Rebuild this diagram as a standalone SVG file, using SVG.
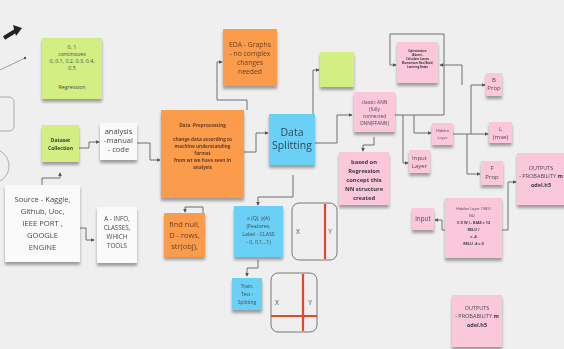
<svg xmlns="http://www.w3.org/2000/svg" width="564" height="349" viewBox="0 0 564 349">
<defs>
<filter id="sh" x="-20%" y="-20%" width="140%" height="150%">
<feDropShadow dx="0" dy="3" stdDeviation="1.8" flood-color="#000" flood-opacity="0.35"/>
</filter>
<marker id="ar" viewBox="0 0 6 6" refX="5" refY="3" markerWidth="4" markerHeight="4" orient="auto">
<path d="M0,0 L6,3 L0,6 z" fill="#555"/>
</marker>
</defs>
<style>
text{font-family:"Open Sans","Noto Sans","Liberation Sans",sans-serif;text-anchor:middle;fill:#4a4a4a}
.g{fill:#d3ef84}
.o{fill:#fb9c4e}
.b{fill:#6bd0f6}
.p{fill:#fbc8db}
.w{fill:#fafafa}
.n{filter:url(#sh)}
.c path{fill:none;stroke:#6f6f6f;stroke-width:1;marker-end:url(#ar)}
.bd{font-weight:bold;fill:#3a3a3a}
.ot{fill:#6a3d1e}
</style>
<rect width="564" height="349" fill="#efefef"/>

<!-- partial shapes on left edge -->
<g id="edge">
<path d="M4,38 L17,30" stroke="#222" stroke-width="4" fill="none"/>
<path d="M13,25 L22,28 L16,36 z" fill="#222"/>
<path d="M0,70 L25,58" stroke="#888" stroke-width="0.8" fill="none"/>
<circle cx="25" cy="58" r="1.2" fill="#555"/>
<rect x="-10" y="97" width="24" height="34" rx="5" fill="none" stroke="#999" stroke-width="0.8"/>
<circle cx="-8" cy="166" r="17" fill="none" stroke="#999" stroke-width="0.8"/>
</g>

<g class="c" id="connectors">
<path d="M79,148 H89 V142 H99"/>
<path d="M137,143 H150 V160 H160"/>
<path d="M42,186 V178 H60 V173"/>
<path d="M80,228 H86 V240 H94"/>
<path d="M203,215 V207 H185 V212"/>
<path d="M247,110 V100 H217 V62 H222"/>
<path d="M243,152 H256 V133 H268"/>
<path d="M293,175 V197 H258 V205"/>
<path d="M258,260 V268 H247 V276"/>
<path d="M315,143 H337 V115 H352"/>
<path d="M313,114 V70 H319"/>
<path d="M374,137 V145 H363 V151"/>
<path d="M395,115 H403 V163 H408"/>
<path d="M403,115 H414 V133 H431"/>
<path d="M414,115 H444 V34 H390 V65 H396"/>
<path d="M453,134 H488"/>
<path d="M471,134 V85 H485"/>
<path d="M462,85 V65 H440"/>
<path d="M467,134 V174 H480"/>
<path d="M445,230 H442 V220 H435"/>
<path d="M502,230 H508 V182 H516"/>
</g>

<g id="n-regression" class="n"><rect class="g" x="42" y="38" width="60" height="61"/></g>
<g font-size="5.3"><text x="72" y="49">0, 1</text><text x="72" y="56">continoues</text><text x="72" y="63">0, 0.1, 0.2, 0.3, 0.4,</text><text x="72" y="70">0.5</text><text x="72" y="89">Regression</text></g>

<g id="n-dataset" class="n"><rect class="g" x="42" y="125" width="37" height="37"/>
<text class="bd" x="60.5" y="142" font-size="5">Dataset</text><text class="bd" x="60.5" y="150" font-size="5">Collection</text></g>

<g id="n-analysis" class="n"><rect class="w" x="100" y="123" width="37" height="37"/>
<text x="118.5" y="134" font-size="7.5">analysis</text><text x="118.5" y="143" font-size="7.5">-manual</text><text x="118.5" y="152" font-size="7.5">- code</text></g>

<g id="n-source" class="n"><rect class="w" x="5" y="185" width="75" height="77"/>
<text x="42.5" y="202" font-size="7.6">Source - Kaggle,</text><text x="42.5" y="214" font-size="7.6">Github, Uoc,</text><text x="42.5" y="226" font-size="7.6">IEEE PORT ,</text><text x="42.5" y="238" font-size="7.6">GOOGLE</text><text x="42.5" y="250" font-size="7.6">ENGINE</text></g>

<g id="n-ainfo" class="n"><rect class="w" x="97" y="207" width="40" height="56"/>
<text x="117" y="221" font-size="6.3">A - INFO,</text><text x="117" y="230" font-size="6.3">CLASSES,</text><text x="117" y="239" font-size="6.3">WHICH</text><text x="117" y="248" font-size="6.3">TOOLS</text></g>

<g id="n-preprocessing" class="n"><rect class="o" x="161" y="110" width="83" height="88"/>
<g font-size="4.7" class="bd"><text class="bd ot" x="202.5" y="127">Data -Preprocessing</text>
<text class="bd ot" x="202.5" y="141">change data according to</text><text class="bd ot" x="202.5" y="148">machine understanding</text><text class="bd ot" x="202.5" y="155">format</text><text class="bd ot" x="202.5" y="162">from wt we have seen in</text><text class="bd ot" x="202.5" y="169">analysis</text></g></g>

<g id="n-findnull" class="n"><rect class="o" x="164" y="213" width="41" height="44"/>
<text class="ot" x="184.5" y="227" font-size="7.5">find null,</text><text class="ot" x="184.5" y="238" font-size="7.5">D - rows,</text><text class="ot" x="184.5" y="249" font-size="7.5">str(obj),</text></g>

<g id="n-eda" class="n"><rect class="o" x="223" y="29" width="54" height="57"/>
<text class="ot" x="250" y="47" font-size="6.8">EDA - Graphs</text><text class="ot" x="250" y="56" font-size="6.8">- no complex</text><text class="ot" x="250" y="65" font-size="6.8">changes</text><text class="ot" x="250" y="74" font-size="6.8">needed</text></g>

<g id="n-splitting" class="n"><rect class="b" x="269" y="114" width="46" height="51"/>
<text x="292" y="136" font-size="10.5" fill="#2d4a63" style="fill:#2d4a63">Data</text><text x="292" y="149" font-size="10.5" style="fill:#2d4a63">Splitting</text></g>

<g id="n-xq" class="n"><rect class="b" x="234" y="206" width="49" height="51"/>
<text x="258.5" y="220" font-size="5.2">x (Q), y(A)</text><text x="258.5" y="228" font-size="5.2">(Features,</text><text x="258.5" y="236" font-size="5.2">Label - CLASS</text><text x="258.5" y="244" font-size="5.2">- 0, 0.1...1)</text></g>

<g id="n-train" class="n"><rect class="b" x="232" y="278" width="30" height="32"/>
<text x="247" y="288" font-size="4.8">Train,</text><text x="247" y="296" font-size="4.8">Test -</text><text x="247" y="304" font-size="4.8">Splitting</text></g>

<g id="n-xy1"><rect x="292" y="203" width="45" height="57" rx="7" fill="none" stroke="#777" stroke-width="1"/>
<path d="M325,204 V259" stroke="#e04a2c" stroke-width="2.2"/>
<text x="298" y="234" font-size="6.5">X</text><text x="330" y="234" font-size="6.5">Y</text></g>

<g id="n-xy2"><rect x="271" y="273" width="46" height="59" rx="7" fill="none" stroke="#777" stroke-width="1"/>
<path d="M303,274 V331 M271,316 H317" stroke="#e04a2c" stroke-width="2.2"/>
<text x="277" y="305" font-size="6.5">X</text><text x="310" y="305" font-size="6.5">Y</text></g>

<g id="n-green-small" class="n"><rect class="g" x="320" y="52" width="34" height="35"/></g>

<g id="n-optimization" class="n"><rect class="p" x="397" y="42" width="41" height="41"/>
<g font-size="2.8" class="bd"><text class="bd" x="417.5" y="52">Optimization</text><text class="bd" x="417.5" y="56">(Adam) -</text><text class="bd" x="417.5" y="60">Calculate Losses</text><text class="bd" x="417.5" y="64">Momentum Res (Back)</text><text class="bd" x="417.5" y="68">Learning Rates</text></g></g>

<g id="n-ann" class="n"><rect class="p" x="354" y="92" width="41" height="40"/>
<text x="374.5" y="104" font-size="4.8">classic ANN</text><text x="374.5" y="111" font-size="4.8">(fully</text><text x="374.5" y="118" font-size="4.8">connected</text><text x="374.5" y="125" font-size="4.8">DNN(FFANN)</text></g>

<g id="n-based" class="n"><rect class="p" x="339" y="152" width="50" height="53"/>
<g font-size="5.8"><text class="bd" x="364" y="164">based on</text><text class="bd" x="364" y="173">Regression</text><text class="bd" x="364" y="182">concept this</text><text class="bd" x="364" y="191">NN  structure</text><text class="bd" x="364" y="200">created</text></g></g>

<g id="n-inputlayer" class="n"><rect class="p" x="409" y="150" width="21" height="23"/>
<text x="419.5" y="160" font-size="6">Input</text><text x="419.5" y="168" font-size="6">Layer</text></g>

<g id="n-hidden" class="n"><rect class="p" x="432" y="123" width="21" height="22"/>
<text x="442.5" y="132" font-size="4">Hidden</text><text x="442.5" y="139" font-size="4">Layer</text></g>

<g id="n-bprop" class="n"><rect class="p" x="486" y="73" width="16" height="23"/>
<text x="494" y="82" font-size="6">B</text><text x="494" y="90" font-size="6">Prop</text></g>

<g id="n-loss" class="n"><rect class="p" x="489" y="122" width="23" height="21"/>
<text x="500.5" y="131" font-size="6">L</text><text x="500.5" y="139" font-size="6">(mse)</text></g>

<g id="n-fprop" class="n"><rect class="p" x="481" y="161" width="22" height="24"/>
<text x="492" y="170" font-size="6">F</text><text x="492" y="179" font-size="6">Prop</text></g>

<g id="n-outputs1" class="n"><rect class="p" x="517" y="153" width="52" height="52"/>
<text x="541" y="170" font-size="5.5">OUTPUTS</text><text x="541" y="178" font-size="5.5">- PROBABILITY <tspan class="bd">m</tspan></text><text class="bd" x="541" y="187" font-size="5.5">odel.h5</text></g>

<g id="n-input" class="n"><rect class="p" x="412" y="208" width="22" height="22"/>
<text x="423" y="221" font-size="6.3">input</text></g>

<g id="n-hidden1neu" class="n"><rect class="p" x="445" y="198" width="57" height="60"/>
<g font-size="3.8"><text x="473.5" y="210">Hidden Layer 1NEU</text><text x="473.5" y="217">NO =</text><text class="bd" x="473.5" y="224">(I X W ) - BIAS = 12</text><text class="bd" x="473.5" y="231">RELU /</text><text class="bd" x="473.5" y="238">= -4</text><text class="bd" x="473.5" y="245">RELU -4 = 0</text></g></g>

<g id="n-outputs2" class="n"><rect class="p" x="452" y="295" width="50" height="52"/>
<text x="477" y="310" font-size="5.5">OUTPUTS</text><text x="477" y="318" font-size="5.5">- PROBABILITY <tspan class="bd">m</tspan></text><text class="bd" x="477" y="327" font-size="5.5">odel.h5</text></g>
</svg>
